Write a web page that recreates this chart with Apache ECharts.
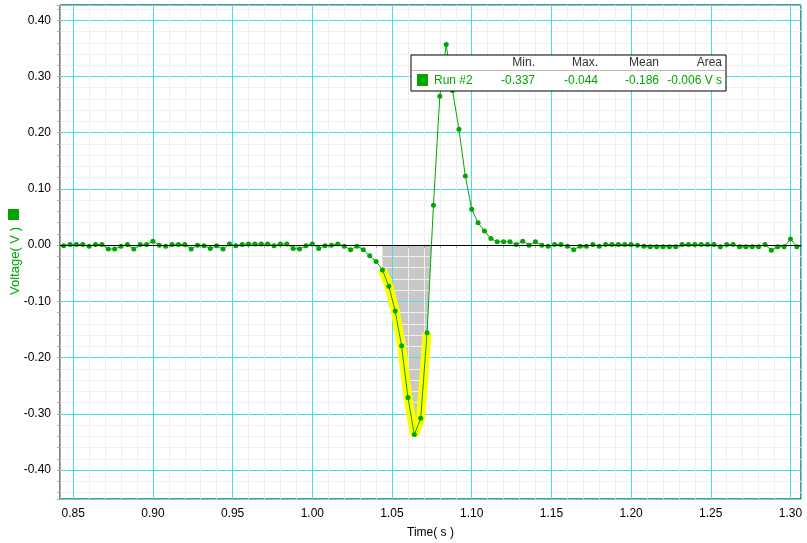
<!DOCTYPE html>
<html style="height: 100%">
<head>
	<meta charset="utf-8">
</head>
<body style="height: 100%; margin: 0; background: #fff">
<div id="container" style="width: 807px; height: 543px"></div>
<script type="text/javascript" src="https://cdn.jsdelivr.net/npm/echarts@6/dist/echarts.min.js"></script>
<script type="text/javascript">
    // Run #2, sampled every 4 ms
    var times = [
        0.844, 0.848, 0.852, 0.856, 0.860, 0.864, 0.868, 0.872, 0.876, 0.880,
        0.884, 0.888, 0.892, 0.896, 0.900, 0.904, 0.908, 0.912, 0.916, 0.920,
        0.924, 0.928, 0.932, 0.936, 0.940, 0.944, 0.948, 0.952, 0.956, 0.960,
        0.964, 0.968, 0.972, 0.976, 0.980, 0.984, 0.988, 0.992, 0.996, 1.000,
        1.004, 1.008, 1.012, 1.016, 1.020, 1.024, 1.028, 1.032, 1.036, 1.040,
        1.044, 1.048, 1.052, 1.056, 1.060, 1.064, 1.068, 1.072, 1.076, 1.080,
        1.084, 1.088, 1.092, 1.096, 1.100, 1.104, 1.108, 1.112, 1.116, 1.120,
        1.124, 1.128, 1.132, 1.136, 1.140, 1.144, 1.148, 1.152, 1.156, 1.160,
        1.164, 1.168, 1.172, 1.176, 1.180, 1.184, 1.188, 1.192, 1.196, 1.200,
        1.204, 1.208, 1.212, 1.216, 1.220, 1.224, 1.228, 1.232, 1.236, 1.240,
        1.244, 1.248, 1.252, 1.256, 1.260, 1.264, 1.268, 1.272, 1.276, 1.280,
        1.284, 1.288, 1.292, 1.296, 1.300, 1.304, 1.308
    ];
    var voltages = [
        -0.001, 0.001, 0.001, 0.001, -0.002, 0.001, 0.001, -0.007, -0.007, -0.002,
        0.001, -0.007, 0.001, 0.001, 0.007, 0.000, -0.002, 0.001, 0.001, 0.001,
        -0.007, 0.000, -0.001, -0.006, -0.001, -0.007, 0.002, -0.001, 0.001, 0.002,
        0.002, 0.002, 0.002, -0.001, 0.002, 0.002, -0.006, -0.007, -0.001, 0.002,
        -0.006, -0.001, 0.000, 0.002, -0.002, -0.008, -0.002, -0.008, -0.019, -0.029,
        -0.044, -0.073, -0.117, -0.179, -0.271, -0.337, -0.308, -0.156, 0.071, 0.265,
        0.357, 0.275, 0.206, 0.123, 0.064, 0.040, 0.025, 0.012, 0.006, 0.006,
        0.006, 0.001, 0.007, 0.000, 0.006, 0.000, -0.002, 0.001, 0.001, -0.002,
        -0.008, -0.002, -0.002, 0.001, -0.002, 0.001, 0.001, 0.001, 0.001, 0.001,
        0.000, -0.002, -0.003, -0.003, -0.003, -0.003, -0.003, 0.001, 0.001, 0.001,
        0.001, 0.001, 0.001, -0.003, 0.001, 0.001, -0.003, -0.003, -0.003, -0.003,
        0.001, -0.009, -0.003, -0.003, 0.011, -0.003, -0.001
    ];
    // selected region for the statistics / integral
    var selStart = 1.044;
    var selEnd = 1.072;
    var statHeaders = ['Min.', 'Max.', 'Mean', 'Area'];
    var runName = 'Run #2';

    var green = '#00a600';
    var data = [], sel = [];
    for (var i = 0; i < times.length; i++) {
        data.push([times[i], voltages[i]]);
        if (times[i] >= selStart - 1e-9 && times[i] <= selEnd + 1e-9) sel.push([times[i], voltages[i]]);
    }
    // shaded area runs on to where the line crosses zero again
    var shade = sel.slice();
    var lastIdx = times.indexOf(selEnd);
    var a = data[lastIdx], b = data[lastIdx + 1];
    shade.push([a[0] + (b[0] - a[0]) * (-a[1]) / (b[1] - a[1]), 0]);

    var vmin = Infinity, vmax = -Infinity, sum = 0, area = 0;
    sel.forEach(function (p, k) {
        vmin = Math.min(vmin, p[1]);
        vmax = Math.max(vmax, p[1]);
        sum += p[1];
        if (k > 0) area += (p[0] - sel[k - 1][0]) * (p[1] + sel[k - 1][1]) / 2;
    });
    var statValues = [vmin.toFixed(3), vmax.toFixed(3), (sum / sel.length).toFixed(3), area.toFixed(3) + ' V s'];

    var font = '"Liberation Sans", Arial, sans-serif';
    var dom = document.getElementById("container");
    var myChart = echarts.init(dom);

    var graphics = [
        {type: 'rect', shape: {x: 8, y: 209, width: 11, height: 11}, style: {fill: green}},
        {type: 'text', x: 15, y: 261, rotation: Math.PI / 2,
            style: {text: 'Voltage( V )', fill: green, font: '13px ' + font, textAlign: 'center', textVerticalAlign: 'middle'}},
        {type: 'rect', z: 100, shape: {x: 411, y: 55, width: 315, height: 36},
            style: {fill: '#fff', stroke: '#000', lineWidth: 1}},
        {type: 'line', z: 101, shape: {x1: 412, y1: 70.5, x2: 725, y2: 70.5}, style: {stroke: '#bbb', lineWidth: 1}},
        {type: 'rect', z: 101, shape: {x: 417, y: 74, width: 11, height: 12}, style: {fill: green}},
        {type: 'text', z: 101, x: 434, y: 81,
            style: {text: runName, fill: green, font: '12px ' + font, textVerticalAlign: 'middle'}}
    ];
    var colRight = [535, 598, 659, 722];
    for (var c = 0; c < statHeaders.length; c++) {
        graphics.push({type: 'text', z: 101, x: colRight[c], y: 63,
            style: {text: statHeaders[c], fill: '#333', font: '12px ' + font, textAlign: 'right', textVerticalAlign: 'middle'}});
        graphics.push({type: 'text', z: 101, x: colRight[c], y: 81,
            style: {text: statValues[c], fill: green, font: '12px ' + font, textAlign: 'right', textVerticalAlign: 'middle'}});
    }

    var option = {
        backgroundColor: '#fff',
        animation: false,
        textStyle: {fontFamily: font},
        grid: {left: 60, right: 6, top: 5, bottom: 44, outerBoundsMode: 'none', containLabel: false,
            show: true, borderColor: '#000', borderWidth: 1},
        xAxis: {
            type: 'value',
            min: 0.8417, max: 1.3066,
            splitNumber: 9,
            name: 'Time( s )', nameLocation: 'middle', nameGap: 28,
            nameTextStyle: {color: '#000', fontSize: 12, fontFamily: font},
            axisLine: {lineStyle: {color: '#000'}},
            axisTick: {length: 3, lineStyle: {color: '#aaa'}},
            minorTick: {show: true, splitNumber: 5, length: 3, lineStyle: {color: '#aaa'}},
            axisLabel: {color: '#000', fontSize: 12, margin: 9, showMinLabel: false, showMaxLabel: false,
                formatter: function (v) { return v.toFixed(2); }},
            splitLine: {lineStyle: {color: '#44e0e8'}},
            minorSplitLine: {show: true, lineStyle: {color: '#efefef'}}
        },
        yAxis: {
            type: 'value',
            min: -0.4516, max: 0.4272,
            splitNumber: 9,
            axisLine: {show: true, lineStyle: {color: '#aaa'}},
            axisTick: {show: true, length: 3, lineStyle: {color: '#aaa'}},
            minorTick: {show: true, splitNumber: 5, length: 3, lineStyle: {color: '#aaa'}},
            axisLabel: {color: '#000', fontSize: 12, margin: 9, showMinLabel: false, showMaxLabel: false,
                formatter: function (v) { return v.toFixed(2); }},
            splitLine: {lineStyle: {color: '#44e0e8'}},
            minorSplitLine: {show: true, lineStyle: {color: '#efefef'}}
        },
        series: [{
            type: 'line',
            z: -1,
            data: shade,
            symbol: 'none',
            lineStyle: {width: 0},
            areaStyle: {color: '#c8c8c8', opacity: 1, origin: 0},
            silent: true
        }, {
            type: 'line',
            z: 1,
            data: sel,
            symbol: 'none',
            lineStyle: {color: '#ffff00', width: 9, cap: 'butt'},
            silent: true
        }, {
            type: 'line',
            z: 3,
            data: data,
            symbol: 'circle',
            symbolSize: 5,
            itemStyle: {color: green},
            lineStyle: {color: green, width: 1},
            markLine: {
                silent: true, symbol: 'none', animation: false,
                label: {show: false},
                lineStyle: {color: '#000', width: 1, type: 'solid'},
                data: [{yAxis: 0}]
            }
        }],
        graphic: graphics
    };
    myChart.setOption(option);
</script>
</body>
</html>
